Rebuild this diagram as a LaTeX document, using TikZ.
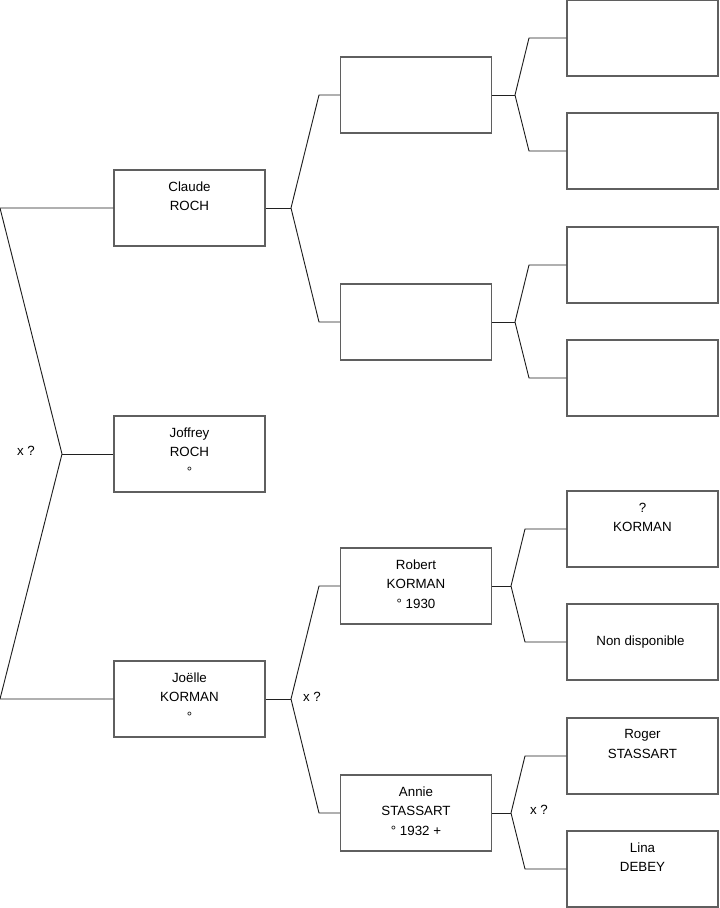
\documentclass[tikz,border=0pt]{standalone}
\usepackage{fontspec}
\setmainfont{Liberation Sans}
\usetikzlibrary{positioning}
\definecolor{TreeBox}{HTML}{5F5F5F}
\definecolor{TreeLine}{HTML}{202020}
\tikzset{
  persbox/.style={draw=TreeBox,line width=0.8pt,minimum width=113.25pt,minimum height=57pt,inner sep=0pt},
  perstext/.style={anchor=north,align=center,inner sep=0pt,yshift=-9pt,font=\fontsize{10}{14.6}\selectfont},
  link/.style={draw=TreeLine,line width=0.7pt},
  marr/.style={inner sep=0pt,font=\fontsize{10}{12}\selectfont}
}

\begin{document}
\begin{tikzpicture}[x=0.75pt,y=-0.75pt]
  \useasboundingbox (0,0) rectangle (719,908);
  % generation 1
  \node[persbox] (claude) at (189.5,208) {};
  \node[persbox] (joffrey) at (189.5,454) {};
  \node[persbox] (joelle) at (189.5,699) {};
  \node[perstext] (claudeT) at (claude.north) {Claude\\ROCH};
  \node[perstext] (joffreyT) at (joffrey.north) {Joffrey\\ROCH\\°};
  \node[perstext] (joelleT) at (joelle.north) {Joëlle\\KORMAN\\°};
  % generation 2
  \node[persbox] (pA) at (416,95) {};
  \node[persbox] (pB) at (416,322) {};
  \node[persbox] (robert) at (416,586) {};
  \node[persbox] (annie) at (416,813) {};
  \node[perstext] (robertT) at (robert.north) {Robert\\KORMAN\\° 1930};
  \node[perstext] (annieT) at (annie.north) {Annie\\STASSART\\° 1932 +};
  % generation 3
  \node[persbox] (gA1) at (642.5,38) {};
  \node[persbox] (gA2) at (642.5,151) {};
  \node[persbox] (gB1) at (642.5,265) {};
  \node[persbox] (gB2) at (642.5,378) {};
  \node[persbox] (kor) at (642.5,529) {};
  \node[persbox] (nondisp) at (642.5,642) {};
  \node[persbox] (roger) at (642.5,756) {};
  \node[persbox] (lina) at (642.5,869) {};
  \node[perstext] (korT) at (kor.north) {?\\KORMAN};
  \node[marr,xshift=-1.5pt] (nondispT) at (nondisp.center) {Non disponible};
  \node[perstext] (rogerT) at (roger.north) {Roger\\STASSART};
  \node[perstext] (linaT) at (lina.north) {Lina\\DEBEY};

  % forks
  \coordinate (f0) at (62,454);
  \coordinate (f0a) at (0,208);
  \coordinate (f0b) at (0,699);
  \draw[link] (claude.west) -- (f0a) -- (f0) -- (f0b) -- (joelle.west);
  \draw[link] (f0) -- (joffrey.west);
  \node[marr] (m0) at (26,451) {x ?};

  \coordinate (f1) at (291,208);
  \coordinate (f1a) at (319,95);
  \coordinate (f1b) at (319,322);
  \draw[link] (claude.east) -- (f1);
  \draw[link] (pA.west) -- (f1a) -- (f1) -- (f1b) -- (pB.west);

  \coordinate (f2) at (291,699);
  \coordinate (f2a) at (319,586);
  \coordinate (f2b) at (319,813);
  \draw[link] (joelle.east) -- (f2);
  \draw[link] (robert.west) -- (f2a) -- (f2) -- (f2b) -- (annie.west);
  \node[marr] (m2) at (312,697) {x ?};

  \coordinate (f3) at (515,95);
  \coordinate (f3a) at (529,38);
  \coordinate (f3b) at (529,151);
  \draw[link] (pA.east) -- (f3);
  \draw[link] (gA1.west) -- (f3a) -- (f3) -- (f3b) -- (gA2.west);

  \coordinate (f4) at (515,322);
  \coordinate (f4a) at (529,265);
  \coordinate (f4b) at (529,378);
  \draw[link] (pB.east) -- (f4);
  \draw[link] (gB1.west) -- (f4a) -- (f4) -- (f4b) -- (gB2.west);

  \coordinate (f5) at (511,586);
  \coordinate (f5a) at (525,529);
  \coordinate (f5b) at (525,642);
  \draw[link] (robert.east) -- (f5);
  \draw[link] (kor.west) -- (f5a) -- (f5) -- (f5b) -- (nondisp.west);

  \coordinate (f6) at (511,813);
  \coordinate (f6a) at (525,756);
  \coordinate (f6b) at (525,869);
  \draw[link] (annie.east) -- (f6);
  \draw[link] (roger.west) -- (f6a) -- (f6) -- (f6b) -- (lina.west);
  \node[marr] (m6) at (539,810) {x ?};
\end{tikzpicture}
\end{document}
